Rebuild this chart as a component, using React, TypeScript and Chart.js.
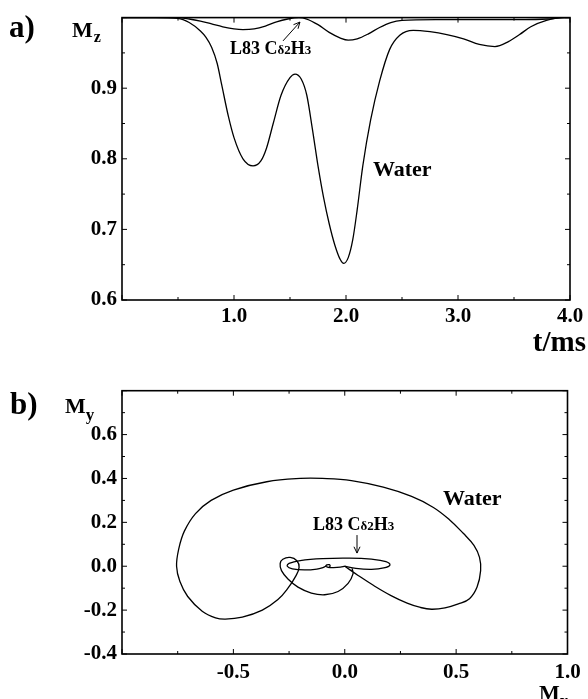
import React, { useEffect, useRef } from 'react';
import { Chart, registerables } from 'chart.js';
Chart.register(...registerables);

const FONT = '"Liberation Serif", "Times New Roman", serif';

// ---- Panel a: Mz vs t/ms ----
const waterTime = [0.0, 0.3, 0.5, 0.6, 0.7, 0.75, 0.8, 0.85, 0.89, 0.95, 1.0, 1.08, 1.17, 1.24, 1.29, 1.35, 1.42, 1.5, 1.545, 1.6, 1.65, 1.7, 1.75, 1.8, 1.85, 1.9, 1.95, 1.98, 2.02, 2.06, 2.1, 2.15, 2.22, 2.3, 2.39, 2.48, 2.6, 2.75, 2.9, 3.05, 3.19, 3.33, 3.45, 3.55, 3.65, 3.79, 3.93, 4.0];
const waterMz = [1.0, 1.0, 0.999, 0.993, 0.981, 0.972, 0.958, 0.935, 0.905, 0.86, 0.83, 0.8, 0.79, 0.797, 0.815, 0.85, 0.89, 0.915, 0.92, 0.913, 0.89, 0.842, 0.79, 0.745, 0.708, 0.678, 0.657, 0.652, 0.66, 0.685, 0.728, 0.79, 0.855, 0.91, 0.955, 0.975, 0.982, 0.98, 0.976, 0.97, 0.962, 0.959, 0.966, 0.976, 0.987, 0.996, 1.0, 1.0];

const l83Time = [0.0, 0.5, 0.6, 0.7, 0.8, 0.9, 1.0, 1.08, 1.18, 1.28, 1.38, 1.48, 1.58, 1.65, 1.75, 1.85, 1.95, 2.02, 2.1, 2.2, 2.3, 2.4, 2.5, 2.8, 3.2, 3.6, 3.8, 3.95, 4.0];
const l83Mz = [1.0, 1.0, 0.998, 0.995, 0.991, 0.987, 0.984, 0.983, 0.984, 0.988, 0.994, 0.998, 1.0, 0.998, 0.99, 0.979, 0.971, 0.968, 0.97, 0.977, 0.986, 0.993, 0.996, 0.997, 0.997, 0.997, 0.998, 1.0, 1.0];

// ---- Panel b: My vs Mx ----
const waterMx = [0.0, 0.06, 0.13, 0.21, 0.28, 0.34, 0.39, 0.45, 0.51, 0.56, 0.594, 0.61, 0.605, 0.58, 0.532, 0.47, 0.398, 0.3, 0.173, 0.03, -0.1, -0.2, -0.35, -0.5, -0.6, -0.67, -0.72, -0.745, -0.755, -0.74, -0.705, -0.64, -0.58, -0.536, -0.46, -0.37, -0.3, -0.255, -0.22, -0.205, -0.215, -0.245, -0.278, -0.29, -0.284, -0.255, -0.21, -0.15, -0.09, -0.03, 0.015, 0.037, 0.033];
const waterMy = [0.0, -0.042, -0.088, -0.135, -0.168, -0.188, -0.196, -0.19, -0.172, -0.148, -0.095, -0.02, 0.04, 0.095, 0.15, 0.212, 0.268, 0.318, 0.36, 0.39, 0.4, 0.4, 0.385, 0.347, 0.3, 0.24, 0.16, 0.08, 0.0, -0.07, -0.138, -0.205, -0.235, -0.241, -0.232, -0.2, -0.152, -0.1, -0.045, -0.005, 0.025, 0.04, 0.032, 0.012, -0.02, -0.058, -0.095, -0.122, -0.13, -0.115, -0.078, -0.035, -0.01];

const l83Mx = [0.0, 0.05, 0.12, 0.175, 0.203, 0.185, 0.12, 0.02, -0.1, -0.2, -0.25, -0.258, -0.235, -0.18, -0.125, -0.098, -0.088, -0.08, -0.069, -0.066, -0.073, -0.082, -0.075, -0.05, -0.02, 0.0];
const l83My = [0.0, -0.01, -0.014, -0.008, 0.006, 0.021, 0.032, 0.037, 0.035, 0.026, 0.013, 0.0, -0.012, -0.017, -0.013, -0.006, -0.001, 0.006, 0.007, 0.0, -0.005, -0.002, -0.005, -0.006, -0.004, 0.0];

const fmt = (v: number) => (Math.abs(v) < 1e-9 ? '0.0' : v.toFixed(1));

function frameTicks(id: string, xMinor: number, xMajor: number, yMinor: number, yMajor: number) {
  return {
    id,
    afterDraw(chart: any) {
      const { ctx, chartArea: a, scales } = chart;
      const xs = scales.x, ys = scales.y;
      ctx.save();
      ctx.strokeStyle = '#000';
      ctx.lineWidth = 1;
      const isMaj = (v: number, m: number) => Math.abs(v / m - Math.round(v / m)) < 1e-4;
      const nx = Math.round((xs.max - xs.min) / xMinor);
      for (let i = 0; i <= nx; i++) {
        const v = xs.min + i * xMinor;
        const px = xs.getPixelForValue(v);
        const len = isMaj(v, xMajor) ? 5 : 3;
        ctx.beginPath();
        ctx.moveTo(px, a.bottom); ctx.lineTo(px, a.bottom - len);
        ctx.moveTo(px, a.top); ctx.lineTo(px, a.top + len);
        ctx.stroke();
      }
      const ny = Math.round((ys.max - ys.min) / yMinor);
      for (let i = 0; i <= ny; i++) {
        const v = ys.min + i * yMinor;
        const py = ys.getPixelForValue(v);
        const len = isMaj(v, yMajor) ? 5 : 3;
        ctx.beginPath();
        ctx.moveTo(a.left, py); ctx.lineTo(a.left + len, py);
        ctx.moveTo(a.right, py); ctx.lineTo(a.right - len, py);
        ctx.stroke();
      }
      ctx.lineWidth = 1.6;
      ctx.strokeRect(a.left, a.top, a.right - a.left, a.bottom - a.top);
      ctx.restore();
    },
  };
}

function drawL83(ctx: CanvasRenderingContext2D, x: number, y: number) {
  const parts: [string, number][] = [['L83 C', 18], ['\u03b42', 13], ['H', 18], ['3', 13]];
  let cx = x;
  ctx.textBaseline = 'alphabetic';
  ctx.textAlign = 'left';
  for (const [t, s] of parts) {
    ctx.font = `bold ${s}px ${FONT}`;
    ctx.fillText(t, cx, y);
    cx += ctx.measureText(t).width;
  }
}

function arrow(ctx: CanvasRenderingContext2D, x1: number, y1: number, x2: number, y2: number) {
  const ang = Math.atan2(y2 - y1, x2 - x1);
  const h = 7;
  ctx.beginPath();
  ctx.moveTo(x1, y1); ctx.lineTo(x2, y2);
  ctx.moveTo(x2 - h * Math.cos(ang - 0.45), y2 - h * Math.sin(ang - 0.45));
  ctx.lineTo(x2, y2);
  ctx.lineTo(x2 - h * Math.cos(ang + 0.45), y2 - h * Math.sin(ang + 0.45));
  ctx.stroke();
}

const annotA = {
  id: 'annotA',
  afterDraw(chart: any) {
    const { ctx, scales } = chart;
    const X = (v: number) => scales.x.getPixelForValue(v);
    const Y = (v: number) => scales.y.getPixelForValue(v);
    ctx.save();
    ctx.fillStyle = '#000';
    ctx.strokeStyle = '#000';
    ctx.textBaseline = 'alphabetic';
    ctx.font = `bold 31px ${FONT}`;
    ctx.fillText('a)', 9, 37);
    ctx.font = `bold 22px ${FONT}`;
    ctx.fillText('M', 72, 37);
    const mw = ctx.measureText('M').width;
    ctx.font = `bold 16px ${FONT}`;
    ctx.fillText('z', 72 + mw + 1, 42);
    ctx.font = `bold 22px ${FONT}`;
    ctx.fillText('Water', X(2.24), Y(0.775));
    ctx.font = `bold 29px ${FONT}`;
    ctx.textAlign = 'right';
    ctx.fillText('t/ms', 586, 351);
    ctx.textAlign = 'left';
    drawL83(ctx, X(0.964), Y(0.949));
    ctx.lineWidth = 1;
    arrow(ctx, X(1.4375), Y(0.967), X(1.589), Y(0.9937));
    ctx.restore();
  },
};

const annotB = {
  id: 'annotB',
  afterDraw(chart: any) {
    const { ctx, scales } = chart;
    const X = (v: number) => scales.x.getPixelForValue(v);
    const Y = (v: number) => scales.y.getPixelForValue(v);
    ctx.save();
    ctx.fillStyle = '#000';
    ctx.strokeStyle = '#000';
    ctx.textBaseline = 'alphabetic';
    ctx.font = `bold 31px ${FONT}`;
    ctx.fillText('b)', 10, 54);
    ctx.font = `bold 22px ${FONT}`;
    ctx.fillText('M', 65, 53);
    const mwy = ctx.measureText('M').width;
    ctx.font = `bold 17px ${FONT}`;
    ctx.fillText('y', 65 + mwy, 60);
    ctx.font = `bold 22px ${FONT}`;
    ctx.fillText('Water', X(0.441), Y(0.279));
    drawL83(ctx, X(-0.1425), Y(0.165));
    ctx.lineWidth = 1;
    arrow(ctx, X(0.055), Y(0.142), X(0.055), Y(0.06));
    ctx.font = `bold 22px ${FONT}`;
    ctx.fillText('M', 539, 340);
    const mw = ctx.measureText('M').width;
    ctx.font = `bold 17px ${FONT}`;
    ctx.fillText('x', 539 + mw, 346);
    ctx.restore();
  },
};

const tickFont = { family: FONT, weight: 'bold' as const, size: 21 };

export default function App() {
  const refA = useRef<HTMLCanvasElement>(null);
  const refB = useRef<HTMLCanvasElement>(null);

  useEffect(() => {
    const lineDs = (xs: number[], ys: number[], extra: any) => ({
      data: xs.map((x, i) => ({ x, y: ys[i] })),
      showLine: true,
      borderColor: '#000',
      backgroundColor: '#000',
      borderWidth: 1.3,
      pointRadius: 0,
      fill: false,
      ...extra,
    });

    const chA = new Chart(refA.current!, {
      type: 'scatter',
      data: {
        datasets: [
          lineDs(waterTime, waterMz, { cubicInterpolationMode: 'monotone' }),
          lineDs(l83Time, l83Mz, { cubicInterpolationMode: 'monotone' }),
        ],
      },
      options: {
        responsive: false,
        animation: false,
        events: [],
        layout: { padding: { left: 0, right: 18, top: 13.5, bottom: 20 } },
        plugins: { legend: { display: false }, tooltip: { enabled: false } },
        scales: {
          x: {
            type: 'linear', min: 0, max: 4,
            grid: { display: false, drawTicks: false }, border: { display: false },
            ticks: { stepSize: 1, font: tickFont, color: '#000', padding: 4, autoSkip: false, maxRotation: 0,
              callback: (v: any) => (Number(v) === 0 ? '' : fmt(Number(v))) },
            afterFit: (s: any) => { s.height = 40; },
          },
          y: {
            type: 'linear', min: 0.6, max: 1.0,
            grid: { display: false, drawTicks: false }, border: { display: false },
            ticks: { stepSize: 0.1, font: tickFont, color: '#000', padding: 5, autoSkip: false,
              callback: (v: any) => (Number(v) > 0.999 ? '' : fmt(Number(v))) },
            afterFit: (s: any) => { s.width = 122; },
          },
        },
      } as any,
      plugins: [frameTicks('ftA', 0.5, 1, 0.05, 0.1), annotA],
    });

    const chB = new Chart(refB.current!, {
      type: 'scatter',
      data: {
        datasets: [
          lineDs(waterMx, waterMy, { tension: 0.4, cubicInterpolationMode: 'default' }),
          lineDs(l83Mx, l83My, { tension: 0.4, cubicInterpolationMode: 'default' }),
        ],
      },
      options: {
        responsive: false,
        animation: false,
        events: [],
        layout: { padding: { left: 0, right: 20.5, top: 30.7, bottom: 10 } },
        plugins: { legend: { display: false }, tooltip: { enabled: false } },
        scales: {
          x: {
            type: 'linear', min: -1, max: 1,
            grid: { display: false, drawTicks: false }, border: { display: false },
            ticks: { stepSize: 0.5, font: tickFont, color: '#000', padding: 6, autoSkip: false, maxRotation: 0,
              callback: (v: any) => (Number(v) < -0.999 ? '' : fmt(Number(v))) },
            afterFit: (s: any) => { s.height = 35; },
          },
          y: {
            type: 'linear', min: -0.4, max: 0.8,
            grid: { display: false, drawTicks: false }, border: { display: false },
            ticks: { stepSize: 0.2, font: tickFont, color: '#000', padding: 5, autoSkip: false,
              callback: (v: any) => (Number(v) > 0.799 ? '' : fmt(Number(v))) },
            afterFit: (s: any) => { s.width = 122; },
          },
        },
      } as any,
      plugins: [frameTicks('ftB', 0.25, 0.5, 0.1, 0.2), annotB],
    });

    return () => { chA.destroy(); chB.destroy(); };
  }, []);

  return (
    <div style={{ position: 'absolute', left: 0, top: 0, width: 588, height: 699, background: '#fff' }}>
      <canvas ref={refA} width={588} height={360} style={{ position: 'absolute', left: 0, top: 0, display: 'block' }} />
      <canvas ref={refB} width={588} height={339} style={{ position: 'absolute', left: 0, top: 360, display: 'block' }} />
    </div>
  );
}
